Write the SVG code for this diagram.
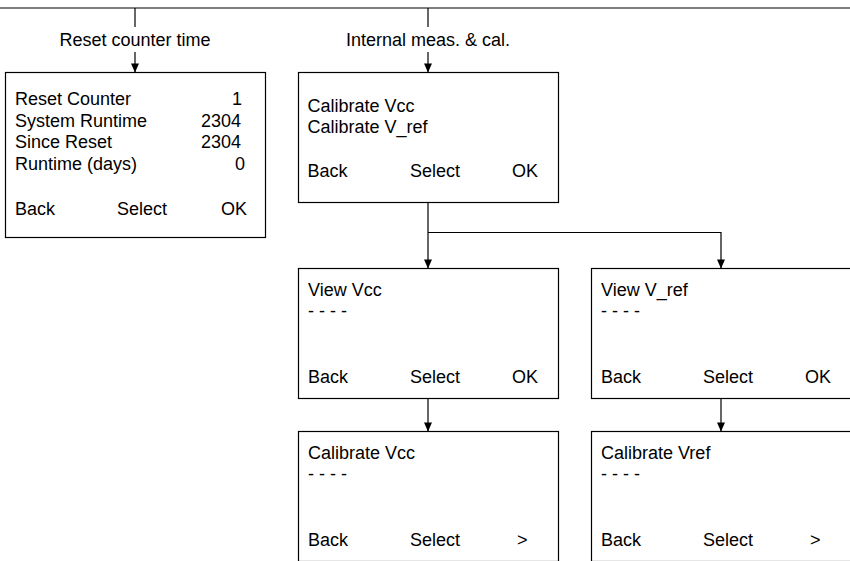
<svg xmlns="http://www.w3.org/2000/svg" width="850" height="561" viewBox="0 0 850 561">
<defs>
<style>
.box{fill:#fff;stroke:#000;stroke-width:1.2}
.c{fill:none;stroke:#000;stroke-width:1.2}
text{font-family:"Liberation Sans",Arial,sans-serif;font-size:18px;fill:#000}
.m{text-anchor:middle}
</style>
</defs>
<rect width="850" height="561" fill="#fff"/>
<g id="connectors">
<path class="c" d="M0,8 H850"/>
<path class="c" d="M135,8 V27"/>
<path class="c" d="M428,8 V27"/>
<path class="c" d="M135,52 V72"/>
<path d="M131,63.5 L139,63.5 L135,72.5 Z"/>
<path class="c" d="M428,52 V72"/>
<path d="M424,63.5 L432,63.5 L428,72.5 Z"/>
<path class="c" d="M428,203 V268"/>
<path d="M424,259.5 L432,259.5 L428,268.5 Z"/>
<path class="c" d="M428,232.5 H721 V268"/>
<path d="M717,259.5 L725,259.5 L721,268.5 Z"/>
<path class="c" d="M428,398 V431"/>
<path d="M424,422.5 L432,422.5 L428,431.5 Z"/>
<path class="c" d="M721,398 V431"/>
<path d="M717,422.5 L725,422.5 L721,431.5 Z"/>
<text class="m" x="135" y="46">Reset counter time</text>
<text class="m" x="428" y="46">Internal meas. &amp; cal.</text>
</g>
<g id="reset-counter">
<rect class="box" x="5.5" y="72.5" width="260" height="165"/>
<text x="15" y="105">Reset Counter</text>
<text x="15" y="126.7">System Runtime</text>
<text x="15" y="148.3">Since Reset</text>
<text x="15" y="170">Runtime (days)</text>
<text x="232" y="105">1</text>
<text x="201" y="126.7">2304</text>
<text x="201" y="148.3">2304</text>
<text x="235" y="170">0</text>
<text x="15" y="215">Back</text>
<text x="117" y="215">Select</text>
<text x="221" y="215">OK</text>
</g>
<g id="internal-meas">
<rect class="box" x="298.5" y="72.5" width="260" height="130"/>
<text x="307.5" y="111.7">Calibrate Vcc</text>
<text x="307.5" y="133.3">Calibrate V_ref</text>
<text x="307.5" y="176.7">Back</text>
<text x="410" y="176.7">Select</text>
<text x="512" y="176.7">OK</text>
</g>
<g id="view-vcc">
<rect class="box" x="298.5" y="268.5" width="260" height="130"/>
<text x="308" y="295.5">View Vcc</text>
<text x="308" y="317">- - - -</text>
<text x="308" y="383">Back</text>
<text x="410" y="383">Select</text>
<text x="512" y="383">OK</text>
</g>
<g id="view-vref">
<rect class="box" x="591.5" y="268.5" width="260" height="130"/>
<text x="601" y="295.5">View V_ref</text>
<text x="601" y="317">- - - -</text>
<text x="601" y="383">Back</text>
<text x="703" y="383">Select</text>
<text x="805" y="383">OK</text>
</g>
<g id="calibrate-vcc">
<rect class="box" x="298.5" y="431.5" width="260" height="130"/>
<text x="308" y="458.5">Calibrate Vcc</text>
<text x="308" y="480">- - - -</text>
<text x="308" y="546">Back</text>
<text x="410" y="546">Select</text>
<text x="517" y="546">&gt;</text>
</g>
<g id="calibrate-vref">
<rect class="box" x="591.5" y="431.5" width="260" height="130"/>
<text x="601" y="458.5">Calibrate Vref</text>
<text x="601" y="480">- - - -</text>
<text x="601" y="546">Back</text>
<text x="703" y="546">Select</text>
<text x="810" y="546">&gt;</text>
</g>
</svg>
